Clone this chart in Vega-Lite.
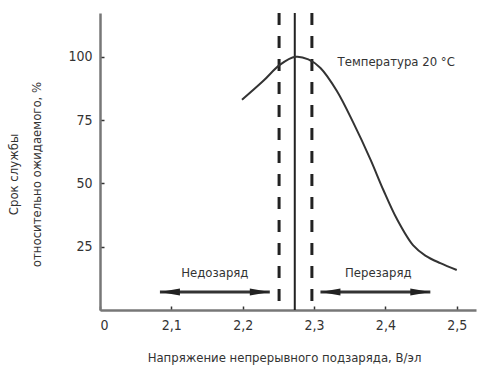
{
  "$schema": "https://vega.github.io/schema/vega-lite/v6.json",
  "width": 376,
  "height": 297,
  "autosize": "none",
  "padding": {"left": 100, "top": 13, "right": 2, "bottom": 60},
  "background": "white",
  "config": {
    "view": {"stroke": null},
    "font": "DejaVu Sans Condensed, sans-serif",
    "axis": {
      "grid": false,
      "domainColor": "#777",
      "domainWidth": 2.5,
      "tickColor": "#333",
      "tickWidth": 1.5,
      "labelColor": "#333",
      "titleColor": "#333",
      "labelFont": "DejaVu Sans Condensed, sans-serif",
      "titleFont": "DejaVu Sans Condensed, sans-serif",
      "titleFontWeight": "normal",
      "labelFontSize": 14,
      "titleFontSize": 13
    }
  },
  "datasets": {
    "curve": [
      {"v": 2.199, "life": 83},
      {"v": 2.229, "life": 90.5},
      {"v": 2.252, "life": 96.8},
      {"v": 2.274, "life": 100},
      {"v": 2.292, "life": 99},
      {"v": 2.309, "life": 95.6},
      {"v": 2.332, "life": 86.5},
      {"v": 2.355, "life": 74},
      {"v": 2.379, "life": 59.5},
      {"v": 2.397, "life": 47.5},
      {"v": 2.416, "life": 36},
      {"v": 2.439, "life": 25.5},
      {"v": 2.456, "life": 21.5},
      {"v": 2.477, "life": 18.5},
      {"v": 2.5, "life": 15.8}
    ],
    "vlines": [
      {"v": 2.251, "kind": "dashed"},
      {"v": 2.273, "kind": "solid"},
      {"v": 2.297, "kind": "dashed"}
    ],
    "arrows": [
      {"from": 2.084, "to": 2.238, "level": 7.1},
      {"from": 2.309, "to": 2.463, "level": 7.1}
    ],
    "heads": [
      {"v": 2.084, "level": 7.1, "dir": "left"},
      {"v": 2.238, "level": 7.1, "dir": "right"},
      {"v": 2.309, "level": 7.1, "dir": "left"},
      {"v": 2.463, "level": 7.1, "dir": "right"}
    ],
    "labels": [
      {"v": 2.161, "level": 14.6, "text": "Недозаряд"},
      {"v": 2.39, "level": 14.6, "text": "Перезаряд"}
    ],
    "note": [
      {"v": 2.333, "level": 98, "text": "Температура 20 °C"}
    ]
  },
  "layer": [
    {
      "data": {"name": "vlines"},
      "mark": {"type": "rule", "color": "#222"},
      "encoding": {
        "x": {"field": "v", "type": "quantitative", "scale": {"domain": [2.0, 2.527], "nice": false, "zero": false},
          "axis": {
            "values": [2.0, 2.1, 2.2, 2.3, 2.4, 2.5],
            "labelExpr": "datum.value == 2 ? '0' : replace(format(datum.value, '.1f'), '.', ',')",
            "tickSize": -4,
            "labelPadding": 12,
            "title": "Напряжение непрерывного подзаряда, В/эл",
            "titleX": 184,
            "titleAnchor": "middle",
            "titleAlign": "center",
            "titleY": 47,
            "titleBaseline": "middle"
          }},
        "strokeDash": {"field": "kind", "type": "nominal", "scale": {"domain": ["dashed", "solid"], "range": [[12, 11], [1, 0]]}, "legend": null},
        "strokeWidth": {"field": "kind", "type": "nominal", "scale": {"domain": ["dashed", "solid"], "range": [3, 2]}, "legend": null}
      }
    },
    {
      "data": {"name": "curve"},
      "mark": {"type": "line", "color": "#333", "strokeWidth": 2, "interpolate": "catmull-rom"},
      "encoding": {
        "x": {"field": "v", "type": "quantitative"},
        "y": {"field": "life", "type": "quantitative", "scale": {"domain": [0, 117.3], "nice": false},
          "axis": {
            "values": [25, 50, 75, 100],
            "tickSize": -4,
            "labelPadding": 12,
            "title": ["Срок службы", "относительно ожидаемого, %"],
            "titleAngle": -90,
            "titleX": -93,
            "titleY": 161,
            "titleAlign": "center",
            "titleBaseline": "top",
            "titleLineHeight": 23
          }}
      }
    },
    {
      "data": {"name": "arrows"},
      "mark": {"type": "rule", "color": "#333", "strokeWidth": 3},
      "encoding": {
        "x": {"field": "from", "type": "quantitative"},
        "x2": {"field": "to"},
        "y": {"field": "level", "type": "quantitative"}
      }
    },
    {
      "data": {"name": "heads"},
      "mark": {"type": "point", "filled": true, "color": "#222", "opacity": 1, "size": 400},
      "encoding": {
        "x": {"field": "v", "type": "quantitative"},
        "y": {"field": "level", "type": "quantitative"},
        "shape": {"field": "dir", "type": "nominal", "scale": {"domain": ["left", "right"], "range": ["M0,0L2,-0.35L2,0.35Z", "M0,0L-2,-0.35L-2,0.35Z"]}, "legend": null}
      }
    },
    {
      "data": {"name": "labels"},
      "mark": {"type": "text", "color": "#333", "fontSize": 13, "align": "center", "baseline": "middle"},
      "encoding": {
        "x": {"field": "v", "type": "quantitative"},
        "y": {"field": "level", "type": "quantitative"},
        "text": {"field": "text"}
      }
    },
    {
      "data": {"name": "note"},
      "mark": {"type": "text", "color": "#333", "fontSize": 13, "align": "left", "baseline": "middle"},
      "encoding": {
        "x": {"field": "v", "type": "quantitative"},
        "y": {"field": "level", "type": "quantitative"},
        "text": {"field": "text"}
      }
    }
  ]
}
